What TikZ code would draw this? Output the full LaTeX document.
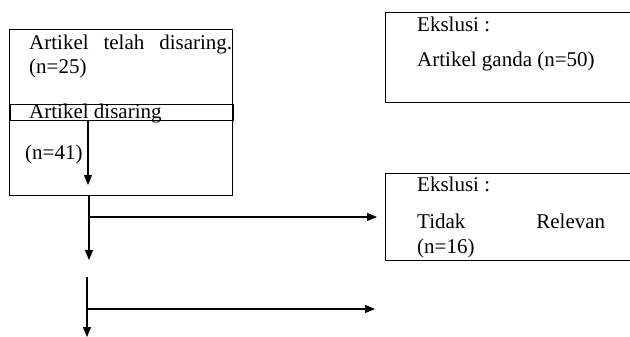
\documentclass[tikz,border=0pt]{standalone}
\usepackage{fontspec}
\setmainfont{Liberation Serif}
\usetikzlibrary{arrows.meta}
\begin{document}
\begin{tikzpicture}[x=1pt,y=-1pt,
  box/.style={draw=black,line width=1pt,inner sep=0pt,anchor=north west},
  txt/.style={anchor=base west,inner sep=0pt,font=\fontsize{21}{24}\selectfont},
  arr/.style={line width=1.1pt,-{Triangle[length=10pt,width=8pt]}}]
\clip (0,0) rectangle (630,337);
\fill[white] (0,0) rectangle (630,337);
% left boxes
\node[box,minimum width=223pt,minimum height=166pt] (screen) at (9,29) {};
\node[box,minimum width=223pt,minimum height=16pt] (inner) at (10,104) {};
\node[txt] (t1) at (29,50) {\makebox[203pt][s]{Artikel\hfill telah\hfill disaring.}};
\node[txt] (t2) at (29,74) {(n=25)};
\node[txt] (t3) at (29,119) {Artikel disaring};
\node[txt] (t4) at (25,160) {(n=41)};
% right boxes
\node[box,minimum width=260pt,minimum height=90pt] (ex1) at (385,12) {};
\node[txt] (e1a) at (417,32) {Ekslusi :};
\node[txt] (e1b) at (417,67) {Artikel ganda (n=50)};
\node[box,minimum width=260pt,minimum height=87pt] (ex2) at (385,173) {};
\node[txt] (e2a) at (417,191) {Ekslusi :};
\node[txt] (e2b) at (417,228) {\makebox[188pt][s]{Tidak\hfill Relevan}};
\node[txt] (e2c) at (417,253) {(n=16)};
% connectors
\coordinate (a1s) at (88,120);
\coordinate (a1e) at (88,185);
\draw[arr] (a1s) -- (a1e);
\coordinate (b1s) at (89,195);
\coordinate (b1e) at (89,260);
\draw[arr] (b1s) -- (b1e);
\coordinate (h1s) at (89,217);
\coordinate (h1e) at (377,217);
\draw[arr] (h1s) -- (h1e);
\coordinate (b2s) at (87,277);
\coordinate (b2e) at (87,337);
\draw[arr] (b2s) -- (b2e);
\coordinate (h2s) at (87,309);
\coordinate (h2e) at (375,309);
\draw[arr] (h2s) -- (h2e);
\end{tikzpicture}
\end{document}
